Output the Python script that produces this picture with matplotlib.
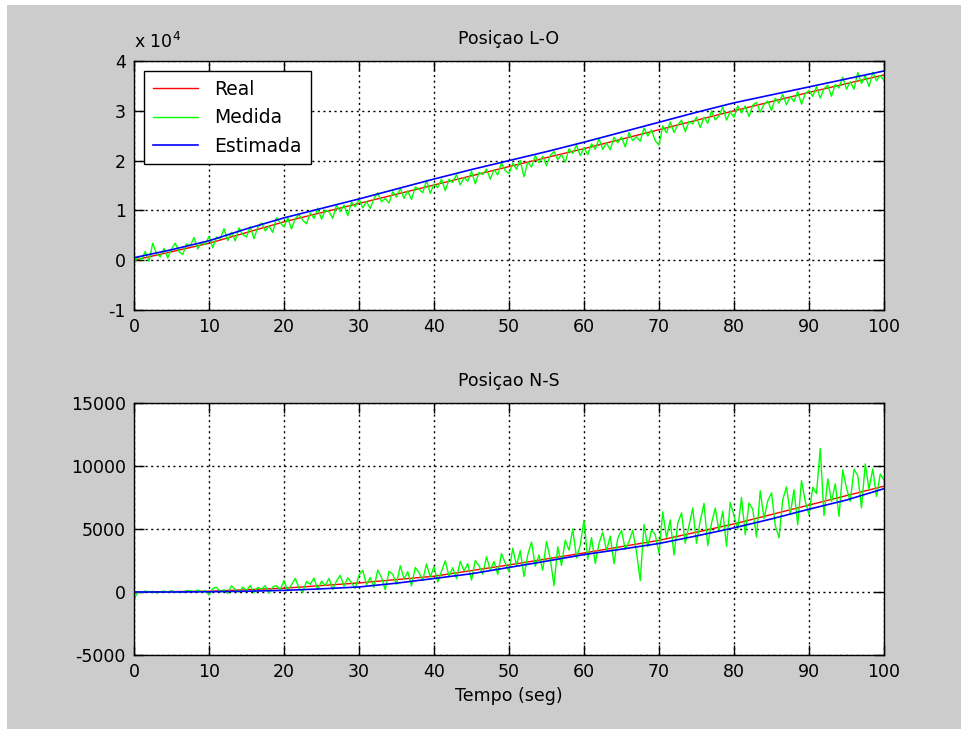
import numpy as np
import matplotlib
matplotlib.use("Agg")
import matplotlib.pyplot as plt
from matplotlib.patches import Rectangle
from matplotlib.ticker import FuncFormatter

# ---------------- data ----------------
titulo_lo = "Posiçao L-O"
titulo_ns = "Posiçao N-S"
rotulo_x = "Tempo (seg)"
legendas = ["Real", "Medida", "Estimada"]

x_ticks = [0, 10, 20, 30, 40, 50, 60, 70, 80, 90, 100]

# time bases
t_real = [0, 10, 20, 30, 40, 50, 60, 70, 80, 90, 100]
t_est = [0, 5, 10, 15, 20, 25, 30, 35, 40, 45, 50, 55, 60, 65, 70, 75, 80, 85, 90, 95, 100]
t_med = np.linspace(0, 100, 201)

# ---- L-O (top) ----
lo_real = [0, 3400, 7700, 11400, 15100, 18800, 22400, 26200, 30000, 33700, 37200]
lo_est = [500, 2100, 3900, 6300, 8500, 10400, 12300, 14300, 16300, 18200, 20000,
          21800, 23700, 25700, 27700, 29700, 31600, 33200, 34800, 36400, 38000]
lo_med = [-800, 785, 70, 1755, -260, 3425, 1310, 695, 2380, 465,
          2250, 3435, 1720, 1105, 3290, 2875, 4560, 2245, 3630, 3115,
          4800, 2485, 4670, 4255, 6340, 3925, 5610, 3895, 6480, 5165,
          4650, 6735, 4320, 6605, 7490, 5875, 6860, 5545, 8530, 7515,
          6700, 8485, 6270, 8355, 9140, 8025, 7310, 9495, 8380, 10465,
          8250, 10035, 9720, 8405, 11090, 9775, 11060, 8945, 11630, 10715,
          12300, 10485, 11770, 10355, 12440, 13525, 11710, 12395, 11480, 13765,
          12650, 14435, 12420, 13905, 12190, 14675, 14260, 13545, 16030, 13415,
          15300, 14585, 16270, 13955, 16240, 15625, 17210, 15095, 16580, 15865,
          17850, 15335, 17620, 17205, 18290, 16275, 18160, 17145, 19530, 18015,
          17400, 19485, 18270, 20055, 16740, 19725, 18710, 20995, 19580, 20865,
          18950, 21035, 21820, 20205, 21190, 19675, 22360, 21445, 23130, 21015,
          22600, 21185, 23370, 22255, 24440, 22225, 23510, 22195, 24680, 23565,
          24750, 22735, 25620, 24005, 24790, 23875, 26560, 24945, 26130, 24015,
          23100, 26985, 25570, 27755, 25640, 27125, 28110, 25795, 27880, 27365,
          28750, 26635, 28720, 27505, 29990, 28175, 28960, 30745, 28130, 29815,
          28700, 30985, 29570, 30955, 28840, 31125, 31710, 29695, 31280, 31965,
          30050, 32535, 31520, 33305, 31190, 32875, 31860, 33845, 31330, 33415,
          34100, 32885, 34870, 32555, 34440, 35125, 32910, 35295, 34580, 36765,
          34350, 35835, 34320, 37705, 35490, 37075, 34860, 37745, 36030, 37115,
          36100]
lo_yticks = [-10000, 0, 10000, 20000, 30000, 40000]

# ---- N-S (bottom) ----
ns_real = [0, 60, 300, 720, 1250, 2150, 3100, 4100, 5400, 6900, 8400]
ns_est = [0, 0, 20, 60, 130, 250, 400, 700, 1070, 1450, 1950,
          2450, 2970, 3400, 3850, 4450, 5090, 5800, 6570, 7300, 8200]
ns_med = [-600, 30, -40, 80, -10, 60, -80, 30, 70, -10,
          110, -30, 40, -40, 110, 90, 30, 160, 10, 110,
          -230, 270, 380, 10, 190, -110, 490, 190, -10, 390,
          120, 520, -70, 370, 210, 500, -80, 390, 510, 180,
          910, 80, 580, 1080, 320, -30, 830, 610, 1110, 170,
          860, 520, 1080, 200, 880, 1330, 450, 1130, 740, 280,
          1340, 1730, 580, 1150, 370, 1740, 1140, 180, 1650, 1400,
          620, 2090, 1040, 1610, 480, 1950, 1530, 930, 2220, 1180,
          2020, 790, 1640, 2480, 1260, 1920, 1060, 2440, 1670, 2250,
          940, 2500, 2090, 1410, 2800, 1760, 2430, 1390, 3050, 2280,
          1610, 3470, 2120, 3280, 1220, 2950, 3970, 2050, 2940, 1730,
          4010, 2660, 500, 3590, 2100, 4110, 3320, 5000, 2710, 3740,
          5700, 2590, 4320, 2270, 3860, 4750, 3260, 4440, 2250, 4270,
          4880, 3390, 4010, 4900, 3140, 900, 5350, 3590, 4910, 4550,
          3070, 6360, 4330, 5720, 2930, 5460, 6280, 3870, 5270, 6660,
          3870, 5640, 7040, 3680, 5460, 6660, 4830, 6410, 3630, 7110,
          6040, 4970, 7510, 4540, 7070, 6570, 4360, 8040, 5830, 7230,
          7870, 5290, 4300, 7330, 8350, 6150, 8120, 5340, 8840, 7200,
          6140, 8310, 7810, 11400, 6070, 8990, 7170, 8580, 6000, 9690,
          8250, 7190, 9740, 9250, 6670, 10170, 8160, 9770, 7570, 9360,
          8880]
ns_yticks = [-5000, 0, 5000, 10000, 15000]

# ---------------- figure ----------------
plt.rcParams["font.family"] = ["DejaVu Sans"]
plt.rcParams["axes.unicode_minus"] = False

W, H = 961, 729
fig = plt.figure(figsize=(W / 100, H / 100), dpi=100, facecolor="white")
fig.patches.append(Rectangle((7 / W, 0), 1 - 7 / W, (H - 5) / H,
                             transform=fig.transFigure, facecolor="#cccccc",
                             edgecolor="none", zorder=-10))

FS = 12.5


def ax_rect(left, top, right, bottom):
    return [left / W, 1 - bottom / H, (right - left) / W, (bottom - top) / H]


def style_axes(ax, yticks):
    ax.set_facecolor("white")
    ax.set_xlim(0, 100)
    ax.set_xticks(x_ticks)
    ax.set_yticks(yticks)
    ax.set_ylim(yticks[0], yticks[-1])
    ax.grid(True, color="black", linestyle=(0, (1.5, 2.5)), linewidth=1.0)
    ax.tick_params(direction="in", length=7, width=1, top=True, right=True,
                   labelsize=FS, colors="black", pad=6)
    for s in ax.spines.values():
        s.set_linewidth(1.0)
        s.set_color("black")


ax1 = fig.add_axes(ax_rect(134, 61, 884, 310))
l1, = ax1.plot(t_real, lo_real, color="#ff0000", lw=1.0)
l2, = ax1.plot(t_med, lo_med, color="#00ff00", lw=1.0)
l3, = ax1.plot(t_est, lo_est, color="#0000ff", lw=1.2)
style_axes(ax1, lo_yticks)
ax1.yaxis.set_major_formatter(FuncFormatter(lambda v, p: f"{v / 1e4:g}"))
ax1.set_title(titulo_lo, fontsize=FS, pad=12)
ax1.text(0.0, 1.035, r"x 10$^{4}$", transform=ax1.transAxes, fontsize=FS,
         ha="left", va="bottom")
leg = ax1.legend([l1, l2, l3], legendas, loc="upper left", fontsize=13.5,
                 fancybox=False, edgecolor="black", framealpha=1,
                 borderaxespad=0.55, handlelength=2.4, handletextpad=0.9,
                 labelspacing=0.5, borderpad=0.45)
leg.get_frame().set_linewidth(1.0)

ax2 = fig.add_axes(ax_rect(134, 403, 884, 655))
ax2.plot(t_real, ns_real, color="#ff0000", lw=1.0)
ax2.plot(t_med, ns_med, color="#00ff00", lw=1.0)
ax2.plot(t_est, ns_est, color="#0000ff", lw=1.2)
style_axes(ax2, ns_yticks)
ax2.set_title(titulo_ns, fontsize=FS, pad=12)
ax2.set_xlabel(rotulo_x, fontsize=FS, labelpad=4)

fig.savefig("out.png", dpi=100, facecolor=fig.get_facecolor())
